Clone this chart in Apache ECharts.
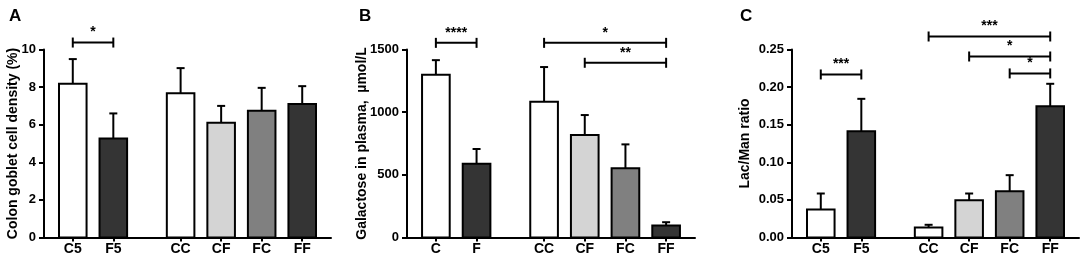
<!DOCTYPE html>
<html>
<head>
<meta charset="utf-8">
<script src="https://cdn.jsdelivr.net/npm/echarts@6/dist/echarts.min.js"></script>
<style>
  html, body { margin: 0; padding: 0; background: #fff; }
  #main { width: 1084px; height: 260px; }
</style>
</head>
<body>
<div id="main"></div>
<script>
// x positions of the groups (the gap between the two blocks is wider)
const xPos = [0, 1, 2.66, 3.66, 4.66, 5.66];
const namesA = ['C5', 'F5', 'CC', 'CF', 'FC', 'FF'];
const namesB = ['C', 'F', 'CC', 'CF', 'FC', 'FF'];
const namesC = ['C5', 'F5', 'CC', 'CF', 'FC', 'FF'];
// fill colour per bar
const fills = ['#ffffff', '#343434', '#ffffff', '#d4d4d4', '#808080', '#343434'];

// A: colon goblet cell density
const meanA = [8.18, 5.27, 7.67, 6.1, 6.74, 7.1];
const errA = [9.49, 6.6, 9.01, 7.0, 7.96, 8.05];
// B: galactose in plasma
const meanB = [1298, 589, 1083, 818, 552, 96];
const errB = [1415, 706, 1360, 977, 743, 122];
// C: lac/man ratio
const meanC = [0.0372, 0.1414, 0.0133, 0.0496, 0.0616, 0.1746];
const errC = [0.0585, 0.1844, 0.0169, 0.0585, 0.0829, 0.2044];

// significance brackets: [from x, to x, y level]
const bracketsA = [[0, 1, 10.37]];
const starsA = ['*'];
const bracketsB = [[0, 1, 1553], [2.66, 5.66, 1553], [3.66, 5.66, 1394]];
const starsB = ['****', '*', '**'];
const bracketsC = [[0, 1, 0.2168], [2.66, 5.66, 0.2673], [3.66, 5.66, 0.2407], [4.66, 5.66, 0.2182]];
const starsC = ['***', '***', '*', '*'];

const FONT = 'Liberation Sans, Arial, sans-serif';
const BAR_W = 0.68;

const chart = echarts.init(document.getElementById('main'));

function makeX(idx, names) {
  return {
    type: 'value', gridIndex: idx, min: -0.71, max: 6.37,
    splitLine: { show: false },
    axisLine: { show: true, onZero: false, lineStyle: { color: '#000', width: 2 } },
    axisTick: { show: true, customValues: xPos, length: 4, lineStyle: { color: '#000', width: 2 } },
    axisLabel: {
      show: true, customValues: xPos, margin: 5,
      color: '#000', fontWeight: 'bold', fontSize: 14, fontFamily: FONT,
      formatter: function (v) {
        for (let i = 0; i < xPos.length; i++) {
          if (Math.abs(xPos[i] - v) < 0.01) return names[i];
        }
        return '';
      }
    }
  };
}

function makeY(idx, max, step, title, gap, fmt) {
  return {
    type: 'value', gridIndex: idx, min: 0, max: max, interval: step,
    name: title, nameLocation: 'middle', nameGap: gap, nameRotate: 90, nameMoveOverlap: false,
    nameTextStyle: { color: '#000', fontWeight: 'bold', fontSize: 14, fontFamily: FONT },
    splitLine: { show: false },
    axisLine: { show: true, onZero: false, lineStyle: { color: '#000', width: 2 } },
    axisTick: { show: true, length: 5, lineStyle: { color: '#000', width: 2 } },
    axisLabel: {
      color: '#000', fontWeight: 'bold', fontSize: 13, fontFamily: FONT, margin: 8,
      formatter: fmt
    }
  };
}

function barSeries(idx, means, errs) {
  const data = xPos.map((x, i) => [x, means[i], errs[i]]);
  return {
    type: 'custom', xAxisIndex: idx, yAxisIndex: idx,
    encode: { x: 0, y: [1, 2] },
    data: data,
    renderItem: function (params, api) {
      const x = api.value(0);
      const base = api.coord([x, 0]);
      const top = api.coord([x, api.value(1)]);
      const etop = api.coord([x, api.value(2)]);
      const w = api.size([BAR_W, 0])[0];
      const cap = 4;
      return {
        type: 'group',
        children: [
          { type: 'line', shape: { x1: top[0], y1: top[1], x2: etop[0], y2: etop[1] },
            style: { stroke: '#000', lineWidth: 2 } },
          { type: 'line', shape: { x1: etop[0] - cap, y1: etop[1], x2: etop[0] + cap, y2: etop[1] },
            style: { stroke: '#000', lineWidth: 2 } },
          { type: 'rect', shape: { x: base[0] - w / 2, y: top[1], width: w, height: base[1] - top[1] },
            style: { fill: fills[params.dataIndex], stroke: '#000', lineWidth: 2 } }
        ]
      };
    }
  };
}

function bracketSeries(idx, brackets, stars) {
  return {
    type: 'custom', xAxisIndex: idx, yAxisIndex: idx,
    encode: { x: [0, 1], y: 2 },
    data: brackets,
    clip: false,
    renderItem: function (params, api) {
      const a = api.coord([api.value(0), api.value(2)]);
      const b = api.coord([api.value(1), api.value(2)]);
      const h = 5;
      return {
        type: 'group',
        children: [
          { type: 'line', shape: { x1: a[0], y1: a[1], x2: b[0], y2: b[1] }, style: { stroke: '#000', lineWidth: 2 } },
          { type: 'line', shape: { x1: a[0], y1: a[1] - h, x2: a[0], y2: a[1] + h }, style: { stroke: '#000', lineWidth: 2 } },
          { type: 'line', shape: { x1: b[0], y1: b[1] - h, x2: b[0], y2: b[1] + h }, style: { stroke: '#000', lineWidth: 2 } },
          { type: 'text', x: (a[0] + b[0]) / 2, y: a[1] - 3,
            style: { text: stars[params.dataIndex], textAlign: 'center', textVerticalAlign: 'bottom',
                     fill: '#000', font: 'bold 14px ' + FONT } }
        ]
      };
    }
  };
}

const option = {
  animation: false,
  backgroundColor: '#fff',
  title: [
    { text: 'A', left: 4, top: 3, textStyle: { fontSize: 17, fontWeight: 'bold', fontFamily: FONT, color: '#000' } },
    { text: 'B', left: 354, top: 3, textStyle: { fontSize: 17, fontWeight: 'bold', fontFamily: FONT, color: '#000' } },
    { text: 'C', left: 735, top: 3, textStyle: { fontSize: 17, fontWeight: 'bold', fontFamily: FONT, color: '#000' } }
  ],
  grid: [
    { left: 44, top: 49.5, width: 287, height: 188, outerBoundsMode: 'none' },
    { left: 407, top: 49.5, width: 288, height: 188, outerBoundsMode: 'none' },
    { left: 792, top: 49.5, width: 287, height: 188, outerBoundsMode: 'none' }
  ],
  xAxis: [makeX(0, namesA), makeX(1, namesB), makeX(2, namesC)],
  yAxis: [
    makeY(0, 10, 2, 'Colon goblet cell density (%)', 24, v => v),
    makeY(1, 1500, 500, 'Galactose in plasma,  \u00b5mol/L', 38, v => v),
    makeY(2, 0.25, 0.05, 'Lac/Man ratio', 40, v => v.toFixed(2))
  ],
  series: [
    barSeries(0, meanA, errA),
    barSeries(1, meanB, errB),
    barSeries(2, meanC, errC),
    bracketSeries(0, bracketsA, starsA),
    bracketSeries(1, bracketsB, starsB),
    bracketSeries(2, bracketsC, starsC)
  ]
};

chart.setOption(option);
</script>
</body>
</html>
